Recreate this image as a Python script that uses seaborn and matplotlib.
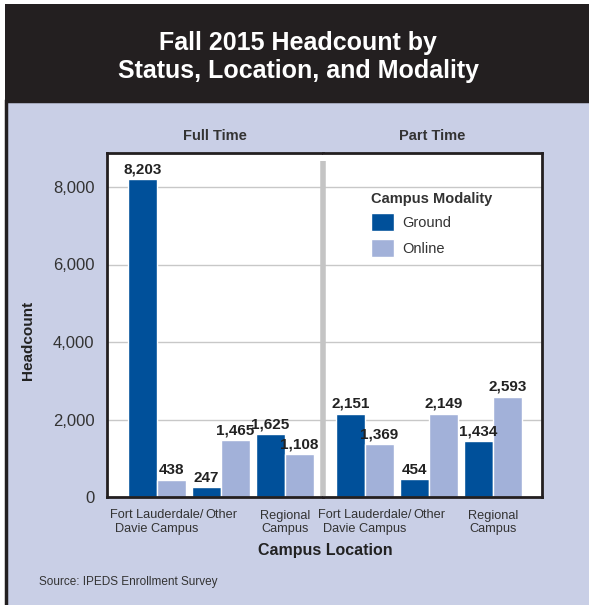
import matplotlib
matplotlib.use('Agg')
import matplotlib.pyplot as plt
from matplotlib.patches import Rectangle
from matplotlib.lines import Line2D
from matplotlib import font_manager
import pandas as pd
import seaborn as sns

# data
status = ['Full Time', 'Part Time']
locations = ['Fort Lauderdale/\nDavie Campus', 'Other', 'Regional\nCampus']
modality = ['Ground', 'Online']
ground_ft = [8203, 247, 1625]
online_ft = [438, 1465, 1108]
ground_pt = [2151, 454, 1434]
online_pt = [1369, 2149, 2593]
y_ticks = [0, 2000, 4000, 6000, 8000]

rows = []
for st, g, o in [('Full Time', ground_ft, online_ft), ('Part Time', ground_pt, online_pt)]:
    for loc, gv, ov in zip(locations, g, o):
        rows.append({'Status': st, 'Location': loc, 'Modality': 'Ground', 'Headcount': gv})
        rows.append({'Status': st, 'Location': loc, 'Modality': 'Online', 'Headcount': ov})
df = pd.DataFrame(rows)

sns.set_style('white')
plt.rcParams['font.family'] = ['Liberation Sans', 'DejaVu Sans']
names = {f.name for f in font_manager.fontManager.ttflist}
has_narrow = 'Liberation Sans Narrow' in names
narrow = ['Liberation Sans Narrow'] if has_narrow else ['Liberation Sans']
tick_fs = 10.5 if has_narrow else 9.2

DARK = '#231f20'
BG = '#c9cfe6'
pal = {'Ground': '#00509a', 'Online': '#a2b1d9'}

W, H = 589, 605
fig = plt.figure(figsize=(W / 100, H / 100), dpi=100)
fig.patch.set_facecolor('white')

# lavender panel + dark title box
fig.patches.append(Rectangle((6 / W, -0.05), 1.1, 1 - 101 / H + 0.05, transform=fig.transFigure,
                             facecolor=BG, edgecolor=DARK, lw=2.5, zorder=-10))
fig.patches.append(Rectangle((5 / W, 1 - 100 / H), 1.1, 96 / H, transform=fig.transFigure,
                             facecolor=DARK, edgecolor='none', zorder=-10))
fig.text(298 / W, 1 - 57 / H, 'Fall 2015 Headcount by\nStatus, Location, and Modality',
         color='white', fontsize=18, fontweight='bold', ha='center', va='center', linespacing=1.25)

bot = 1 - 497 / H
ht = (497 - 153) / H
ax1 = fig.add_axes([107 / W, bot, 216 / W, ht])
ax2 = fig.add_axes([323 / W, bot, 219 / W, ht], sharey=ax1)

ymax = 8000 * 344 / 310
for ax, st, xl in [(ax1, 'Full Time', (-50 / 64, 166 / 64)), (ax2, 'Part Time', (-42 / 64, 177 / 64))]:
    sub = df[df['Status'] == st]
    sns.barplot(data=sub, x='Location', y='Headcount', hue='Modality', hue_order=modality,
                palette=pal, width=0.9, ax=ax, legend=(ax is ax2), saturation=1)
    for c in ax.containers:
        ax.bar_label(c, labels=[f'{v:,.0f}' for v in c.datavalues], fontsize=11,
                     fontweight='bold', color='#222222', padding=2)
    ax.set_xlim(*xl)
    ax.set_ylim(0, ymax)
    ax.set_yticks(y_ticks)
    ax.yaxis.grid(True, color='#c8c8c8', lw=1)
    ax.set_axisbelow(True)
    ax.set_xlabel('')
    ax.set_ylabel('')
    ax.set_facecolor('white')
    ax.tick_params(length=0)
    ax.set_xticks(range(len(locations)))
    ax.set_xticklabels(locations, family=narrow, fontsize=tick_fs, color='#333333',
                       va='top', linespacing=1.2)
    ax.tick_params(axis='x', pad=9)
    for s in ax.spines.values():
        s.set_color(DARK)
        s.set_linewidth(2)
    ax.set_title(st, fontsize=10.5, fontweight='bold', color='#333333', pad=9)

ax1.spines['right'].set_visible(False)
ax2.spines['left'].set_visible(False)
ax2.tick_params(axis='y', labelleft=False)
ax1.set_yticklabels([f'{v:,}' for v in y_ticks], fontsize=12, color='#333333')
ax1.tick_params(axis='y', pad=9)

# gray divider between the two status groups
fig.add_artist(Line2D([323 / W, 323 / W], [bot + 1 / H, 1 - 161 / H], color='#c4c4c4', lw=4,
                      solid_capstyle='butt', transform=fig.transFigure, zorder=5))

leg = ax2.legend(title='Campus Modality', loc='upper left', bbox_to_anchor=(0.16, 0.925),
                 frameon=False, fontsize=10.5, title_fontproperties={'weight': 'bold', 'size': 10.5},
                 handlelength=1.55, handleheight=1.55, handletextpad=0.6, labelspacing=0.5)
leg._legend_box.align = 'left'
for t in leg.get_texts():
    t.set_color('#333333')
leg.get_title().set_color('#333333')

fig.text(28 / W, 1 - 340 / H, 'Headcount', rotation=90, fontsize=11, fontweight='bold',
         color='#222222', ha='center', va='center')
fig.text(325 / W, 1 - 551 / H, 'Campus Location', fontsize=11.5, fontweight='bold',
         color='#222222', ha='center', va='center')
fig.text(39 / W, 1 - 582 / H, 'Source: IPEDS Enrollment Survey', family=narrow,
         fontsize=9 if has_narrow else 8.5, color='#333333', ha='left', va='center')

fig.savefig('out.png', dpi=100, facecolor=fig.get_facecolor())
